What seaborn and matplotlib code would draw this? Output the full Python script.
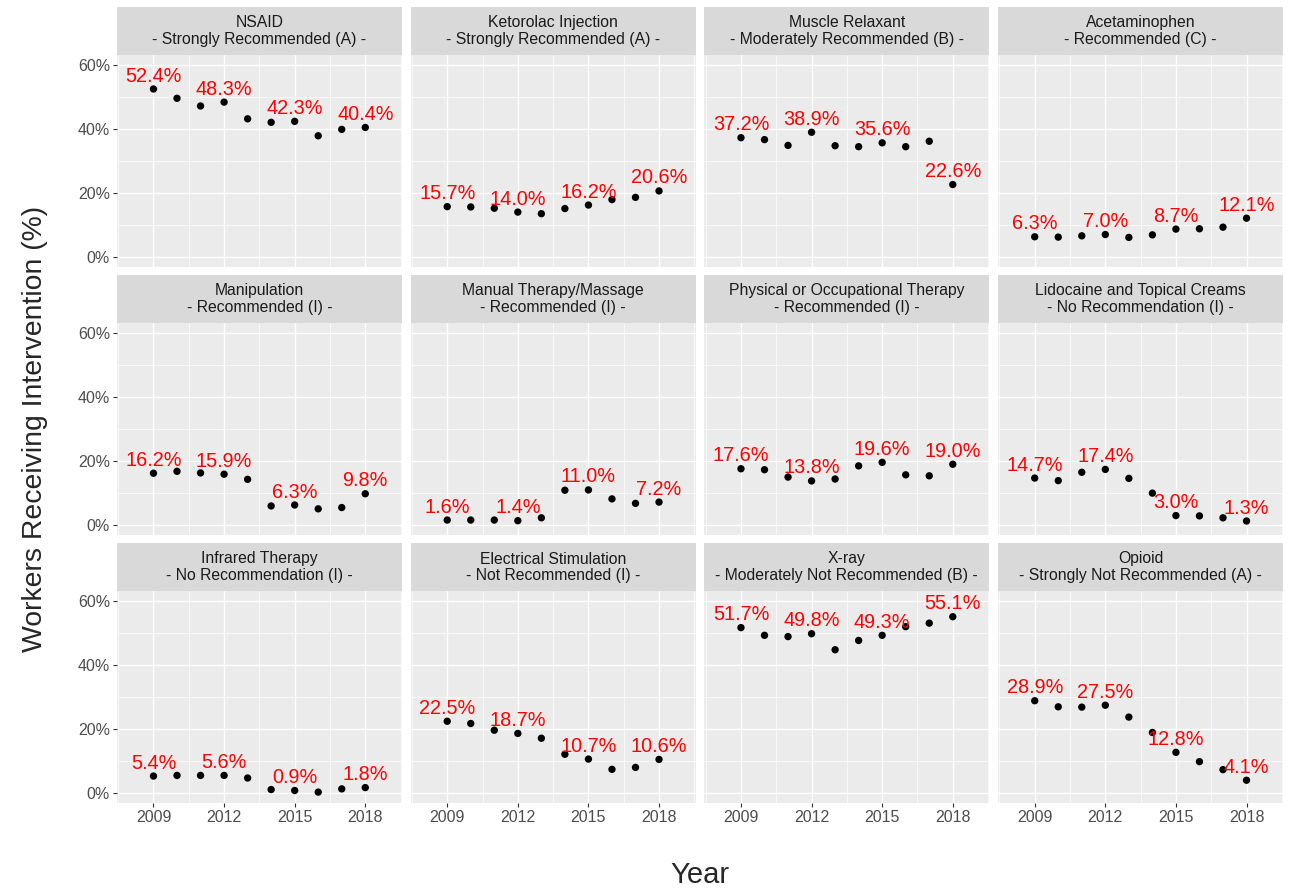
import seaborn as sns
import pandas as pd
import matplotlib.pyplot as plt
from matplotlib.patches import Rectangle
from matplotlib.ticker import FuncFormatter

# values (percent of workers)
years = [2009, 2010, 2011, 2012, 2013, 2014, 2015, 2016, 2017, 2018]
label_years = [2009, 2012, 2015, 2018]

treatments = ['NSAID', 'Ketorolac Injection', 'Muscle Relaxant', 'Acetaminophen',
              'Manipulation', 'Manual Therapy/Massage', 'Physical or Occupational Therapy',
              'Lidocaine and Topical Creams', 'Infrared Therapy', 'Electrical Stimulation',
              'X-ray', 'Opioid']
grades = ['Strongly Recommended (A)', 'Strongly Recommended (A)', 'Moderately Recommended (B)',
          'Recommended (C)', 'Recommended (I)', 'Recommended (I)', 'Recommended (I)',
          'No Recommendation (I)', 'No Recommendation (I)', 'Not Recommended (I)',
          'Moderately Not Recommended (B)', 'Strongly Not Recommended (A)']

nsaid = [52.4, 49.5, 47.1, 48.3, 43.1, 42.0, 42.3, 37.8, 39.8, 40.4]
ketorolac = [15.7, 15.6, 15.2, 14.0, 13.5, 15.1, 16.2, 17.9, 18.6, 20.6]
muscle_relaxant = [37.2, 36.6, 34.8, 38.9, 34.7, 34.4, 35.6, 34.4, 36.1, 22.6]
acetaminophen = [6.3, 6.2, 6.6, 7.0, 6.1, 6.9, 8.7, 8.8, 9.3, 12.1]
manipulation = [16.2, 16.8, 16.3, 15.9, 14.3, 6.0, 6.3, 5.1, 5.5, 9.8]
manual_therapy = [1.6, 1.6, 1.6, 1.4, 2.3, 10.9, 11.0, 8.2, 6.8, 7.2]
physical_therapy = [17.6, 17.3, 15.0, 13.8, 14.4, 18.5, 19.6, 15.7, 15.4, 19.0]
lidocaine = [14.7, 13.9, 16.5, 17.4, 14.6, 10.0, 3.0, 2.9, 2.3, 1.3]
infrared = [5.4, 5.6, 5.6, 5.6, 4.8, 1.2, 0.9, 0.4, 1.4, 1.8]
electrical = [22.5, 21.8, 19.7, 18.7, 17.2, 12.2, 10.7, 7.5, 8.1, 10.6]
xray = [51.7, 49.3, 48.9, 49.8, 44.8, 47.7, 49.3, 52.0, 53.1, 55.1]
opioid = [28.9, 27.0, 26.9, 27.5, 23.8, 19.0, 12.8, 9.9, 7.4, 4.1]

series = [nsaid, ketorolac, muscle_relaxant, acetaminophen, manipulation, manual_therapy,
          physical_therapy, lidocaine, infrared, electrical, xray, opioid]

rows = []
for name, vals in zip(treatments, series):
    for yr, v in zip(years, vals):
        rows.append({'Treatment': name, 'Year': yr, 'Pct': v})
df = pd.DataFrame(rows)

sns.set_theme(style='darkgrid')
plt.rcParams['font.family'] = ['Liberation Sans', 'DejaVu Sans']

fig, axes = plt.subplots(3, 4, figsize=(12.92, 8.90), dpi=100, sharex=True, sharey=True)
fig.subplots_adjust(left=117/1292, right=1283/1292, top=1-55/890, bottom=1-803/890,
                    wspace=9/285, hspace=56.6/211.6)

strip_h = 48 / 211.6
for i, (ax, name, grade) in enumerate(zip(axes.flat, treatments, grades)):
    sub = df[df.Treatment == name]
    sns.scatterplot(data=sub, x='Year', y='Pct', ax=ax, color='black', s=28,
                    edgecolor='none', zorder=3)
    for yr in label_years:
        v = sub.loc[sub.Year == yr, 'Pct'].iloc[0]
        ax.annotate(f'{v:.1f}%', (yr, v), xytext=(0, 2.5), textcoords='offset points',
                    ha='center', va='bottom', color='#FF0000', fontsize=14.3, zorder=4)

    ax.set_facecolor('#EBEBEB')
    for sp in ax.spines.values():
        sp.set_visible(False)
    ax.set_xlim(2007.45, 2019.55)
    ax.set_ylim(-3, 63)
    ax.set_xticks(label_years)
    ax.set_xticks([2007.5, 2010.5, 2013.5, 2016.5, 2019.5], minor=True)
    ax.set_yticks([0, 20, 40, 60])
    ax.set_yticks([10, 30, 50], minor=True)
    ax.yaxis.set_major_formatter(FuncFormatter(lambda v, p: f'{v:.0f}%'))
    ax.grid(which='major', color='white', linewidth=1.0)
    ax.grid(which='minor', color='white', linewidth=0.5)
    ax.tick_params(which='minor', length=0)
    ax.tick_params(which='major', labelsize=11.5, labelcolor='#4D4D4D', color='#333333',
                   length=3, width=0.8, pad=2)
    if i % 4 != 0:
        ax.tick_params(axis='y', length=0)
    if i < 8:
        ax.tick_params(axis='x', length=0)
    ax.tick_params(axis='x', bottom=(i >= 8))
    ax.tick_params(axis='y', left=(i % 4 == 0))
    ax.set_xlabel('')
    ax.set_ylabel('')

    # facet strip
    ax.add_patch(Rectangle((0, 1), 1, strip_h, transform=ax.transAxes, clip_on=False,
                           facecolor='#D9D9D9', edgecolor='none'))
    ax.text(0.5, 1 + strip_h / 2, f'{name}\n- {grade} -', transform=ax.transAxes,
            ha='center', va='center', fontsize=11.3, color='#1A1A1A', linespacing=1.15)

fig.text(700/1292, 1 - 875/890, 'Year', ha='center', va='center', fontsize=21)
fig.text(35/1292, 1 - 429/890, 'Workers Receiving Intervention (%)', ha='center',
         va='center', rotation=90, fontsize=20.4)

plt.savefig('out.png', dpi=100)
